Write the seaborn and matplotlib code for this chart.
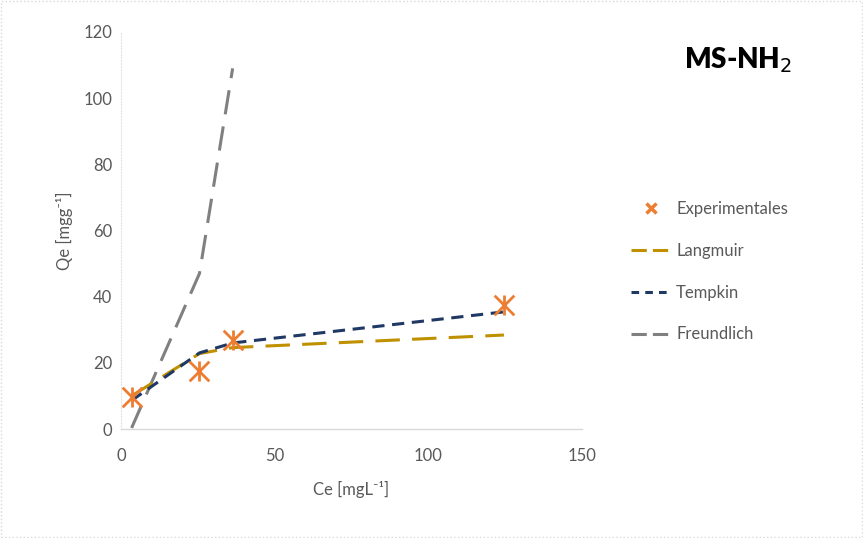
import matplotlib.pyplot as plt
import matplotlib.lines as mlines
import seaborn as sns
import pandas as pd

# experimental points
ce_exp = [3.5, 25.6, 36.4, 124.7]
qe_exp = [9.8, 17.4, 26.9, 37.5]

# model curves, evaluated at the same Ce values
ce_model = [3.5, 25.6, 36.4, 124.7]
qe_langmuir = [10.0, 22.8, 24.6, 28.4]
qe_tempkin = [8.6, 23.0, 26.0, 35.4]
ce_freundlich = [3.5, 25.6, 36.4]
qe_freundlich = [0.3, 47.0, 109.0]

sns.set_style("white")
plt.rcParams["font.family"] = ["Lato", "DejaVu Sans"]

fig = plt.figure(figsize=(8.63, 5.38), dpi=100)
ax = fig.add_axes([0.140, 0.2026, 0.534, 0.738])

c_exp = "#ED7D31"
c_lang = "#BF9000"
c_temp = "#1F3864"
c_freu = "#808080"

df_l = pd.DataFrame({"Ce": ce_model, "Qe": qe_langmuir})
df_t = pd.DataFrame({"Ce": ce_model, "Qe": qe_tempkin})
df_f = pd.DataFrame({"Ce": ce_freundlich, "Qe": qe_freundlich})
df_e = pd.DataFrame({"Ce": ce_exp, "Qe": qe_exp})

sns.lineplot(data=df_f, x="Ce", y="Qe", ax=ax, color=c_freu, lw=2.2,
             sort=False, linestyle=(0, (8, 4)))
sns.lineplot(data=df_l, x="Ce", y="Qe", ax=ax, color=c_lang, lw=2.2,
             sort=False, linestyle=(0, (8, 4)))
sns.lineplot(data=df_t, x="Ce", y="Qe", ax=ax, color=c_temp, lw=2.2,
             sort=False, linestyle=(0, (4, 2.5)))
sns.scatterplot(data=df_e, x="Ce", y="Qe", ax=ax, marker="x", s=200,
                color=c_exp, linewidth=2, zorder=5)
sns.scatterplot(data=df_e, x="Ce", y="Qe", ax=ax, marker="|", s=200,
                color=c_exp, linewidth=2, zorder=5)

ax.set_xlim(0, 150)
ax.set_ylim(0, 120)
ax.set_xticks([0, 50, 100, 150])
ax.set_yticks(range(0, 121, 20))
ax.tick_params(axis="both", colors="#595959", labelsize=12, length=0)
ax.tick_params(axis="x", pad=14)
ax.tick_params(axis="y", pad=6)
for s in ["top", "right"]:
    ax.spines[s].set_visible(False)
ax.spines["bottom"].set_color("#D9D9D9")
ax.spines["left"].set_color("#E3E3E3")
ax.spines["left"].set_linestyle(":")
ax.spines["bottom"].set_linewidth(1)

ax.set_xlabel("Ce [mgL⁻¹]", color="#595959", fontsize=12, labelpad=12)
ax.set_ylabel("Qe [mgg⁻¹]", color="#595959", fontsize=12, labelpad=8)

fig.text(0.855, 0.888, "MS-NH$_2$", fontsize=20, fontweight="heavy",
         ha="center", va="center", color="black")

handles = [
    mlines.Line2D([], [], color=c_exp, marker="x", linestyle="none",
                  markersize=7, markeredgewidth=2.5),
    mlines.Line2D([], [], color=c_lang, lw=2.2, linestyle=(0, (5, 2))),
    mlines.Line2D([], [], color=c_temp, lw=2.2, linestyle=(0, (2.5, 2))),
    mlines.Line2D([], [], color=c_freu, lw=2.2, linestyle=(0, (5, 2))),
]
labels = ["Experimentales", "Langmuir", "Tempkin", "Freundlich"]
leg = fig.legend(handles, labels, loc="center left",
                 bbox_to_anchor=(0.714, 0.495), frameon=False,
                 fontsize=12, labelspacing=1.55, handlelength=2.4,
                 handletextpad=0.3, labelcolor="#595959")

fig.patches.append(plt.Rectangle((0.001, 0.001), 0.998, 0.998,
                                 transform=fig.transFigure, fill=False,
                                 edgecolor="#D9D9D9", lw=1, ls=":"))

fig.savefig("out.png", dpi=100)
